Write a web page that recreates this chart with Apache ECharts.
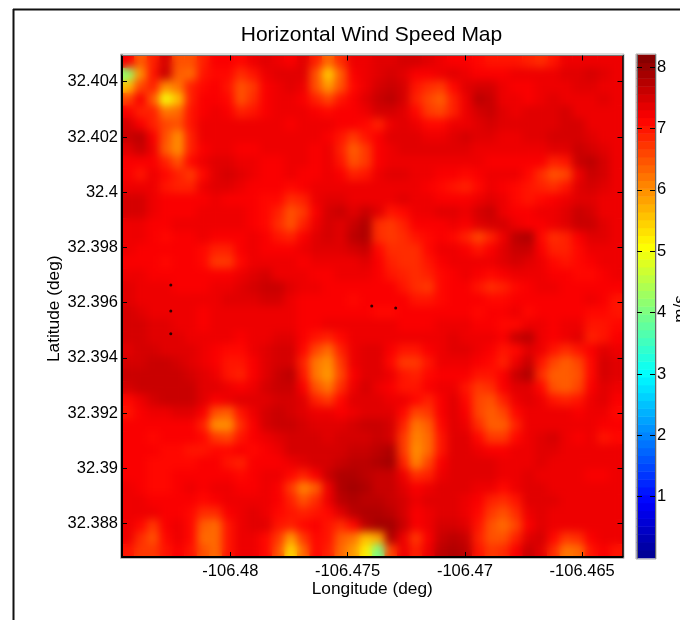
<!DOCTYPE html>
<html>
<head>
<meta charset="utf-8">
<style>html,body{margin:0;padding:0;background:#fff}#c{width:680px;height:620px}</style>
<script src="https://cdn.jsdelivr.net/npm/echarts@6/dist/echarts.min.js"></script>
</head>
<body>
<div id="c"></div>
<script>
const titleText = 'Horizontal Wind Speed Map';
const lonTicks = [-106.48, -106.475, -106.47, -106.465];
const latTicks = [32.388, 32.39, 32.392, 32.394, 32.396, 32.398, 32.4, 32.402, 32.404];
const barTicks = [1, 2, 3, 4, 5, 6, 7, 8];
const lonRange = [-106.48462, -106.46328];
const latRange = [32.38679, 32.40495];
const speedRange = [0, 8.2];
const turbineLon = [-106.48254, -106.48254, -106.48254, -106.47397, -106.47295];
const turbineLat = [32.39664, 32.3957, 32.39487, 32.39588, 32.39581];

// Wind speed (m/s), north to south, west to east
const row00 = [7.2,6.4,6.9,7.5,6.5,6.5,6.9,7.2,7.2,7.1, 7.3,7.4,7.3,7.2,7.4,6.9,6.3,6.8,7.3,7.3, 7.4,7.4,7.5,7.5,7.4,7.3,7.2,7.2,7.1,7.0, 7.0,7.0,6.9,6.8,7.0,7.3,7.3,7.3,7.3,7.3];
const row01 = [4.2,6.0,7.0,7.6,6.4,6.3,7.0,7.1,7.1,6.8, 7.0,7.3,7.4,7.4,7.4,6.5,5.5,6.4,7.2,7.3, 7.4,7.5,7.4,7.2,7.2,7.3,7.4,7.3,7.2,7.2, 7.2,7.3,7.3,7.3,7.3,7.4,7.4,7.5,7.4,7.3];
const row02 = [5.6,6.6,6.9,6.0,6.2,6.9,7.1,7.2,7.0,6.5, 6.7,7.2,7.3,7.4,7.3,6.5,5.9,6.5,7.1,7.3, 7.5,7.6,7.5,7.0,6.8,6.7,7.1,7.4,7.5,7.5, 7.3,7.2,7.2,7.3,7.3,7.3,7.4,7.4,7.3,7.3];
const row03 = [6.6,7.2,6.4,5.0,5.6,6.9,7.2,7.2,7.1,6.5, 6.8,7.2,7.3,7.3,7.2,6.9,6.6,7.0,7.2,7.4, 7.6,7.7,7.5,6.9,6.6,6.4,6.9,7.3,7.7,7.6, 7.3,7.3,7.2,7.3,7.4,7.3,7.3,7.3,7.4,7.3];
const row04 = [7.2,6.9,6.9,6.2,6.3,7.0,7.2,7.3,7.2,6.9, 7.0,7.2,7.3,7.3,7.3,7.2,7.1,7.2,7.2,7.3, 7.5,7.5,7.4,7.1,6.7,6.6,6.9,7.3,7.5,7.6, 7.4,7.3,7.4,7.4,7.4,7.5,7.3,7.3,7.3,7.3];
const row05 = [7.5,7.2,6.9,6.6,6.5,7.0,7.3,7.3,7.3,7.3, 7.3,7.3,7.3,7.2,7.3,7.3,7.3,7.2,7.2,7.1, 6.9,7.3,7.4,7.3,7.1,7.1,7.3,7.3,7.4,7.5, 7.4,7.4,7.4,7.4,7.4,7.5,7.5,7.3,7.3,7.3];
const row06 = [7.6,7.7,7.2,6.5,6.0,6.9,7.3,7.3,7.3,7.3, 7.3,7.3,7.3,7.3,7.3,7.3,7.2,7.0,6.7,7.0, 7.2,7.4,7.4,7.4,7.3,7.3,7.4,7.5,7.4,7.4, 7.3,7.3,7.4,7.4,7.5,7.5,7.5,7.4,7.3,7.3];
const row07 = [7.4,7.6,7.3,6.4,6.0,6.9,7.2,7.3,7.3,7.2, 7.2,7.3,7.3,7.3,7.3,7.2,7.3,6.9,6.4,6.7, 7.2,7.3,7.4,7.4,7.4,7.4,7.4,7.4,7.3,7.3, 7.3,7.3,7.3,7.3,7.4,7.4,7.6,7.5,7.4,7.3];
const row08 = [7.2,7.2,7.2,6.9,6.5,7.1,7.3,7.4,7.4,7.3, 7.3,7.2,7.2,7.3,7.3,7.2,7.3,7.0,6.5,6.7, 7.2,7.3,7.3,7.3,7.3,7.3,7.3,7.3,7.3,7.2, 7.2,7.2,7.2,7.2,6.9,7.0,7.6,7.7,7.5,7.3];
const row09 = [7.2,7.0,7.3,7.1,6.9,6.7,7.1,7.4,7.5,7.4, 7.3,7.2,7.2,7.3,7.2,7.2,7.3,7.2,6.9,7.0, 7.3,7.4,7.4,7.3,7.3,7.2,7.2,7.1,7.2,7.3, 7.3,7.3,7.1,6.8,6.5,6.6,7.3,7.6,7.5,7.3];
const row10 = [7.3,7.3,7.3,7.0,6.9,6.9,7.3,7.4,7.4,7.3, 7.2,7.2,7.2,7.1,7.2,7.3,7.3,7.3,7.3,7.3, 7.3,7.3,7.3,7.3,7.2,7.1,7.0,6.9,7.1,7.3, 7.2,7.1,7.0,6.9,6.8,7.0,7.4,7.5,7.4,7.3];
const row11 = [7.5,7.5,7.3,7.2,7.2,7.2,7.2,7.3,7.2,7.2, 7.2,7.1,7.1,6.8,6.9,7.3,7.4,7.4,7.3,7.3, 7.3,7.3,7.4,7.3,7.3,7.2,7.2,7.2,7.3,7.4, 7.3,7.1,7.0,7.1,7.2,7.3,7.4,7.4,7.3,7.3];
const row12 = [7.5,7.5,7.3,7.2,7.2,7.2,7.3,7.3,7.3,7.3, 7.2,7.1,6.9,6.5,6.7,7.2,7.5,7.6,7.4,7.6, 7.4,7.0,7.1,7.3,7.3,7.4,7.4,7.3,7.5,7.6, 7.3,7.2,7.2,7.3,7.3,7.4,7.6,7.5,7.3,7.3];
const row13 = [7.3,7.3,7.2,7.2,7.3,7.3,7.3,7.3,7.3,7.3, 7.2,7.1,6.8,6.5,6.9,7.3,7.5,7.4,7.6,7.8, 6.8,6.7,6.9,7.2,7.2,7.2,7.3,7.2,7.4,7.5, 7.5,7.3,7.2,7.2,7.3,7.4,7.6,7.6,7.4,7.3];
const row14 = [7.3,7.3,7.2,7.1,7.2,7.2,7.3,7.2,7.2,7.2, 7.3,7.2,7.0,6.9,7.2,7.4,7.5,7.4,7.7,7.8, 6.8,6.7,6.8,7.0,7.1,7.2,7.1,6.9,6.6,6.9, 7.3,7.7,7.8,7.1,6.8,6.9,7.2,7.4,7.4,7.3];
const row15 = [7.3,7.2,7.2,7.2,7.2,7.2,7.1,6.9,6.9,7.2, 7.3,7.2,7.2,7.2,7.3,7.4,7.4,7.4,7.5,7.6, 7.1,6.8,6.8,6.8,7.1,7.3,7.3,7.2,7.0,7.2, 7.4,7.6,7.6,7.2,6.9,6.9,7.1,7.3,7.3,7.3];
const row16 = [7.2,7.2,7.2,7.1,7.2,7.2,7.1,6.7,6.7,7.1, 7.3,7.3,7.3,7.3,7.2,7.3,7.3,7.3,7.3,7.4, 7.2,6.9,6.8,6.8,7.0,7.2,7.3,7.3,7.3,7.3, 7.4,7.5,7.4,7.3,7.1,7.0,7.1,7.2,7.3,7.3];
const row17 = [7.3,7.3,7.2,7.2,7.2,7.2,7.2,7.2,7.2,7.3, 7.4,7.5,7.3,7.3,7.3,7.2,7.2,7.3,7.3,7.3, 7.2,7.0,6.9,6.8,6.9,7.1,7.2,7.3,7.2,7.1, 7.2,7.3,7.3,7.3,7.2,7.2,7.1,7.1,7.2,7.3];
const row18 = [7.4,7.3,7.3,7.3,7.2,7.2,7.2,7.3,7.3,7.4, 7.5,7.6,7.6,7.4,7.3,7.3,7.2,7.2,7.2,7.2, 7.2,7.2,7.0,6.8,6.7,7.1,7.2,7.2,7.0,6.8, 6.9,7.1,7.2,7.3,7.3,7.2,7.2,7.2,7.2,7.2];
const row19 = [7.4,7.3,7.3,7.3,7.3,7.3,7.3,7.3,7.4,7.4, 7.4,7.5,7.5,7.3,7.2,7.2,7.2,7.2,7.1,7.2, 7.2,7.2,7.2,7.0,7.0,7.1,7.2,7.2,7.2,7.1, 7.1,7.2,7.2,7.2,7.2,7.2,7.2,7.3,7.2,7.0];
const row20 = [7.5,7.4,7.3,7.3,7.3,7.3,7.2,7.3,7.3,7.3, 7.3,7.3,7.3,7.3,7.2,7.2,7.2,7.2,7.2,7.2, 7.1,7.1,7.2,7.2,7.2,7.2,7.2,7.2,7.1,7.2, 7.2,7.3,7.1,7.2,7.2,7.2,7.2,7.1,7.1,7.0];
const row21 = [7.5,7.5,7.4,7.4,7.3,7.3,7.2,7.3,7.3,7.3, 7.3,7.3,7.3,7.3,7.2,7.2,7.3,7.3,7.3,7.3, 7.3,7.3,7.2,7.2,7.2,7.3,7.3,7.3,7.2,7.2, 7.1,7.1,7.3,7.3,7.2,7.3,7.3,7.0,7.0,7.1];
const row22 = [7.5,7.5,7.4,7.4,7.4,7.3,7.3,7.3,7.3,7.2, 7.3,7.3,7.4,7.4,7.2,7.0,6.9,7.1,7.3,7.3, 7.3,7.3,7.3,7.3,7.3,7.3,7.4,7.3,7.3,7.3, 7.2,7.6,7.7,7.3,7.2,7.3,7.4,6.9,7.0,7.2];
const row23 = [7.4,7.5,7.5,7.4,7.4,7.4,7.3,7.2,7.1,7.1, 7.3,7.4,7.5,7.5,7.1,6.6,6.3,6.9,7.3,7.4, 7.4,7.2,7.0,7.0,7.2,7.3,7.4,7.4,7.3,7.2, 7.0,7.1,7.4,7.3,7.0,6.8,7.0,7.2,7.4,7.3];
const row24 = [7.5,7.5,7.6,7.6,7.5,7.4,7.3,7.2,7.0,7.0, 7.2,7.4,7.5,7.5,6.9,6.2,6.0,6.7,7.3,7.4, 7.4,7.1,6.7,6.7,7.0,7.3,7.3,7.3,7.2,7.1, 6.9,7.3,7.6,7.0,6.6,6.4,6.6,7.1,7.5,7.4];
const row25 = [7.6,7.6,7.6,7.6,7.6,7.5,7.4,7.3,7.0,6.9, 7.2,7.4,7.6,7.7,7.0,6.2,5.9,6.6,7.2,7.4, 7.4,7.3,7.0,6.9,7.1,7.2,7.2,7.2,7.0,7.0, 7.2,7.6,7.8,6.8,6.4,6.4,6.5,7.1,7.5,7.4];
const row26 = [7.5,7.6,7.6,7.6,7.6,7.6,7.4,7.4,7.3,7.2, 7.3,7.5,7.6,7.6,7.2,6.5,6.2,6.8,7.3,7.5, 7.3,7.2,7.0,7.0,7.2,7.3,7.3,7.0,6.7,6.8, 7.2,7.4,7.4,7.1,6.5,6.4,6.6,7.2,7.4,7.3];
const row27 = [7.1,7.3,7.5,7.6,7.6,7.6,7.4,7.2,7.3,7.4, 7.4,7.4,7.5,7.5,7.4,6.9,6.7,7.1,7.4,7.4, 7.4,7.3,7.3,7.1,6.9,7.2,7.4,7.1,6.6,6.5, 6.9,7.3,7.4,7.3,7.0,6.9,7.0,7.3,7.4,7.2];
const row28 = [7.0,7.2,7.3,7.3,7.4,7.4,7.2,6.5,6.4,7.0, 7.3,7.5,7.6,7.5,7.4,7.3,7.3,7.2,7.3,7.4, 7.4,7.4,7.1,6.6,6.7,7.2,7.4,7.2,6.6,6.4, 6.6,7.1,7.3,7.3,7.3,7.3,7.2,7.3,7.3,7.1];
const row29 = [7.2,7.2,7.2,7.2,7.2,7.2,6.9,6.0,6.0,6.8, 7.2,7.5,7.6,7.6,7.5,7.4,7.4,7.4,7.5,7.6, 7.6,7.5,6.9,6.2,6.4,7.1,7.4,7.3,6.8,6.4, 6.4,6.9,7.3,7.3,7.3,7.3,7.3,7.3,7.2,7.2];
const row30 = [7.2,7.2,7.1,7.2,7.2,7.2,7.1,6.7,6.6,7.0, 7.2,7.3,7.4,7.5,7.5,7.5,7.4,7.5,7.5,7.5, 7.6,7.5,6.7,6.1,6.3,7.0,7.4,7.4,7.1,6.7, 6.7,7.1,7.3,7.4,7.5,7.3,7.2,7.3,7.0,7.1];
const row31 = [7.2,7.2,7.2,7.1,7.1,7.0,7.0,7.1,7.1,7.2, 7.1,7.2,7.3,7.5,7.5,7.5,7.5,7.5,7.6,7.6, 7.7,7.8,6.7,6.0,6.3,7.0,7.4,7.4,7.3,7.2, 7.2,7.3,7.3,7.4,7.4,7.3,7.3,7.3,7.3,7.3];
const row32 = [7.2,7.2,7.1,7.1,7.1,7.1,7.2,7.2,7.0,6.9, 7.2,7.2,7.2,7.3,7.4,7.5,7.5,7.6,7.7,7.7, 7.8,7.9,6.9,6.1,6.6,7.2,7.4,7.4,7.4,7.4, 7.3,7.3,7.3,7.4,7.3,7.3,7.3,7.3,7.3,7.3];
const row33 = [7.2,7.2,7.1,7.1,7.2,7.2,7.2,7.2,7.2,7.1, 7.2,7.3,7.3,7.1,6.9,7.2,7.6,7.8,7.8,7.7, 7.6,7.6,7.3,6.8,6.9,7.3,7.4,7.4,7.4,7.4, 7.3,7.3,7.4,7.3,7.3,7.3,7.3,7.2,7.2,7.3];
const row34 = [7.3,7.2,7.1,7.1,7.2,7.3,7.2,7.3,7.3,7.2, 7.2,7.3,7.2,6.7,6.1,6.4,7.3,7.8,7.9,7.8, 7.6,7.6,7.4,7.2,7.3,7.4,7.4,7.4,7.3,7.3, 7.1,7.3,7.4,7.4,7.3,7.3,7.3,7.3,7.3,7.3];
const row35 = [7.3,7.3,7.2,7.2,7.2,7.2,7.1,7.2,7.3,7.3, 7.3,7.3,7.2,6.9,6.5,6.8,7.3,7.7,7.8,7.7, 7.7,7.6,7.5,7.3,7.4,7.4,7.4,7.3,7.2,6.9, 6.8,7.0,7.4,7.4,7.4,7.3,7.3,7.3,7.3,7.3];
const row36 = [7.3,7.3,7.3,7.2,7.2,7.1,6.8,6.8,7.2,7.3, 7.4,7.3,7.1,7.0,6.9,7.0,7.1,7.4,7.7,7.8, 7.8,7.7,7.5,7.2,7.3,7.4,7.4,7.3,7.1,6.7, 6.5,6.8,7.3,7.4,7.3,7.3,7.3,7.3,7.3,7.3];
const row37 = [7.3,7.1,6.7,7.2,7.3,7.1,6.4,6.3,7.0,7.3, 7.4,7.4,7.0,6.9,7.1,7.2,7.0,6.8,7.1,7.7, 7.9,7.9,7.6,7.2,7.3,7.5,7.5,7.4,7.0,6.5, 6.3,6.6,7.2,7.4,7.3,7.3,7.3,7.3,7.3,7.3];
const row38 = [7.3,6.8,6.5,7.1,7.3,7.1,6.3,6.3,7.0,7.3, 7.3,7.1,6.7,5.9,6.7,7.1,7.0,6.4,6.2,5.6, 5.8,7.8,7.3,6.7,7.2,7.6,7.7,7.6,6.9,6.5, 6.5,6.9,7.4,7.5,7.1,6.7,6.8,7.2,7.3,7.3];
const row39 = [7.0,6.7,6.7,7.0,7.2,7.0,6.5,6.3,7.0,7.3, 7.3,7.1,6.5,5.4,6.3,7.1,6.9,6.3,5.9,5.2, 4.0,6.6,7.3,6.9,7.3,7.7,7.8,7.7,7.0,6.7, 6.8,7.2,7.6,7.4,6.8,6.2,6.3,7.0,7.2,7.0];

const windRows = [row00,row01,row02,row03,row04,row05,row06,row07,row08,row09,row10,row11,row12,row13,row14,row15,row16,row17,row18,row19,row20,row21,row22,row23,row24,row25,row26,row27,row28,row29,row30,row31,row32,row33,row34,row35,row36,row37,row38,row39];

// MATLAB jet colormap, 64 levels
function jet(n) {
  const out = [];
  const clamp = v => Math.max(0, Math.min(1, v));
  for (let i = 0; i < n; i++) {
    const t = 4 * (i + 1) / n;
    const r = clamp(Math.min(t - 1.5, 4.5 - t));
    const g = clamp(Math.min(t - 0.5, 3.5 - t));
    const b = clamp(Math.min(t + 0.5, 2.5 - t));
    out.push('rgb(' + [r, g, b].map(v => Math.round(v * 255)).join(',') + ')');
  }
  return out;
}
const palette = jet(64);
const barLevels = palette.map((_, i) => (i + 0.5) * (speedRange[1] - speedRange[0]) / 64);

const cellData = [];
windRows.forEach((row, r) => row.forEach((v, c) => cellData.push([c, r, v])));
const colNames = windRows[0].map((_, c) => 'c' + c);
const rowNames = windRows.map((_, r) => 'r' + r);
const barData = barLevels.map((v, i) => [0, i, v]);
const dots = turbineLon.map((x, i) => [x, turbineLat[i]]);

const font = '"Liberation Sans", Arial, sans-serif';
const ink = '#000';
const noTick = { show: false };
const chart = echarts.init(document.getElementById('c'), null, { renderer: 'canvas' });
const frameStyle = { stroke: '#111', lineWidth: 2 };
const overHeat = 2;

chart.setOption({
  animation: false,
  backgroundColor: '#fff',
  title: {
    text: titleText, left: 366.5, top: 20, textAlign: 'center',
    textStyle: { fontFamily: font, fontSize: 21, fontWeight: 'normal', color: ink }
  },
  tooltip: { show: false },
  grid: [
    { left: 122, top: 55.5, width: 500.5, height: 501.5, containLabel: false, outerBoundsMode: 'none' },
    { left: 637, top: 55, width: 18, height: 503, containLabel: false, outerBoundsMode: 'none' }
  ],
  xAxis: [
    { type: 'category', gridIndex: 0, data: colNames, show: false },
    {
      type: 'value', gridIndex: 0, position: 'bottom', min: lonRange[0], max: lonRange[1], zlevel: overHeat,
      name: 'Longitude (deg)', nameLocation: 'middle', nameGap: 24, nameMoveOverlap: false,
      nameTextStyle: { fontFamily: font, fontSize: 17.3, color: ink },
      splitLine: noTick,
      axisLine: { show: true, onZero: false, lineStyle: { color: ink, width: 2 } },
      axisTick: { show: true, inside: true, length: 5, customValues: lonTicks, lineStyle: { color: ink } },
      axisLabel: { show: true, customValues: lonTicks, margin: 6, formatter: v => String(v), fontFamily: font, fontSize: 16.5, color: ink, hideOverlap: false }
    },
    {
      type: 'value', gridIndex: 0, position: 'top', min: lonRange[0], max: lonRange[1], zlevel: overHeat,
      splitLine: noTick,
      axisLine: { show: true, onZero: false, lineStyle: { color: '#777', width: 1 } },
      axisTick: { show: true, inside: true, length: 5, customValues: lonTicks, lineStyle: { color: ink } },
      axisLabel: { show: false }
    },
    { type: 'category', gridIndex: 1, data: ['scale'], show: false }
  ],
  yAxis: [
    { type: 'category', gridIndex: 0, data: rowNames, inverse: true, show: false },
    {
      type: 'value', gridIndex: 0, position: 'left', min: latRange[0], max: latRange[1], zlevel: overHeat,
      name: 'Latitude (deg)', nameLocation: 'middle', nameGap: 59, nameMoveOverlap: false,
      nameTextStyle: { fontFamily: font, fontSize: 17.3, color: ink, padding: [0, 5, 0, 0] },
      splitLine: noTick,
      axisLine: { show: true, onZero: false, lineStyle: { color: ink, width: 2 } },
      axisTick: { show: true, inside: true, length: 5, customValues: latTicks, lineStyle: { color: ink } },
      axisLabel: { show: true, customValues: latTicks, margin: 4, formatter: v => String(v), fontFamily: font, fontSize: 16.5, color: ink, hideOverlap: false }
    },
    {
      type: 'value', gridIndex: 0, position: 'right', min: latRange[0], max: latRange[1], zlevel: overHeat,
      splitLine: noTick,
      axisLine: { show: true, onZero: false, lineStyle: { color: ink, width: 1.5 } },
      axisTick: { show: true, inside: true, length: 5, customValues: latTicks, lineStyle: { color: ink } },
      axisLabel: { show: false }
    },
    { type: 'category', gridIndex: 1, data: barLevels.map(String), show: false },
    {
      type: 'value', gridIndex: 1, position: 'right', min: speedRange[0], max: speedRange[1], z: 5,
      name: 'm/s', nameLocation: 'middle', nameGap: 17, nameRotate: 90, nameMoveOverlap: false,
      nameTextStyle: { fontFamily: font, fontSize: 17, color: ink, padding: [0, 5, 0, 0] },
      splitLine: noTick,
      axisLine: { show: true, onZero: false, lineStyle: { color: '#666', width: 1 } },
      axisTick: { show: true, inside: true, length: 5, customValues: barTicks, lineStyle: { color: ink } },
      axisLabel: { show: true, customValues: barTicks, margin: 2, formatter: v => String(v), fontFamily: font, fontSize: 16.5, color: ink, hideOverlap: false }
    },
    {
      type: 'value', gridIndex: 1, position: 'left', min: speedRange[0], max: speedRange[1], z: 5,
      splitLine: noTick,
      axisLine: { show: true, onZero: false, lineStyle: { color: '#666', width: 1 } },
      axisTick: { show: true, inside: true, length: 5, customValues: barTicks, lineStyle: { color: ink } },
      axisLabel: { show: false }
    }
  ],
  visualMap: {
    type: 'continuous', show: false, min: speedRange[0], max: speedRange[1], dimension: 2,
    seriesIndex: [0, 1, 3], inRange: { color: palette }
  },
  series: [
    { type: 'heatmap', xAxisIndex: 0, yAxisIndex: 0, data: cellData, silent: true, progressive: 0, z: 1 },
    { type: 'heatmap', xAxisIndex: 0, yAxisIndex: 0, data: cellData, silent: true, progressive: 0, z: 1, zlevel: 1 },
    { type: 'scatter', xAxisIndex: 1, yAxisIndex: 1, data: dots, symbolSize: 3, itemStyle: { color: '#000' }, silent: true, zlevel: overHeat },
    { type: 'heatmap', xAxisIndex: 3, yAxisIndex: 3, data: barData, silent: true, progressive: 0, z: 1 }
  ],
  graphic: [
    { type: 'line', silent: true, shape: { x1: 13, y1: 9.5, x2: 680, y2: 9.5 }, style: frameStyle },
    { type: 'line', silent: true, shape: { x1: 13.5, y1: 9, x2: 13.5, y2: 620 }, style: frameStyle },
    { type: 'rect', silent: true, z: -1, shape: { x: 120.5, y: 54, width: 503.5, height: 504.5 }, style: { fill: 'none', stroke: '#bbb', lineWidth: 1 } },
    { type: 'rect', silent: true, z: -1, shape: { x: 636, y: 54, width: 20, height: 505 }, style: { fill: 'none', stroke: '#aaa', lineWidth: 1 } }
  ]
});

// Soften the cell edges of the upper heat layer, as the source's shading does
const softLayer = chart.getDom().querySelector('canvas[data-zr-dom-id="zr_1"]');
if (softLayer) {
  softLayer.style.filter = 'blur(4px)';
  softLayer.style.clipPath = 'inset(55.5px 57.5px 63px 122px)';
}
</script>
</body>
</html>
